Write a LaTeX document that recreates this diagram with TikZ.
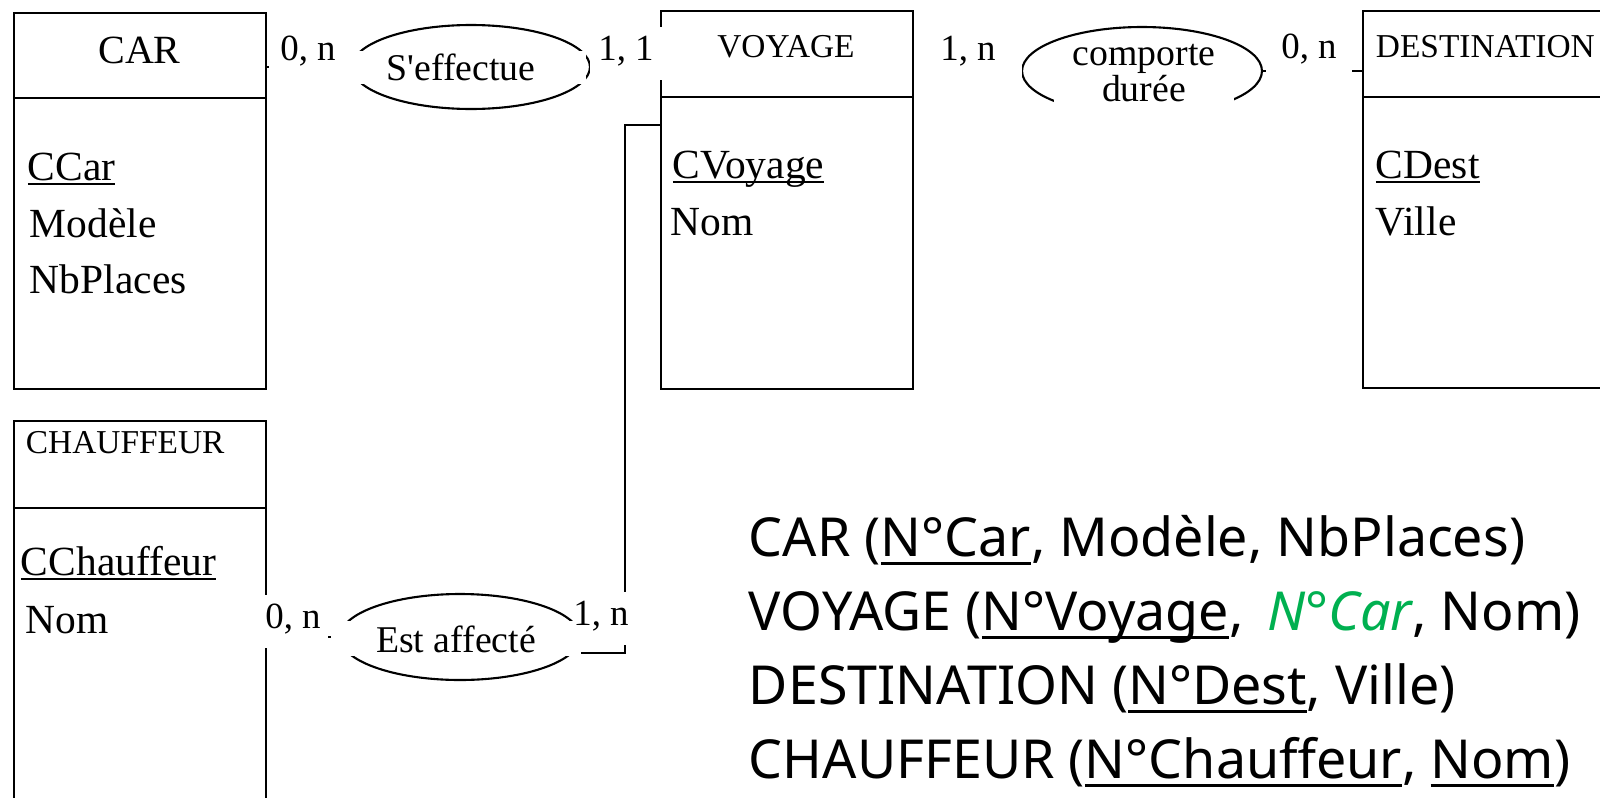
\documentclass[tikz,border=0pt]{standalone}
\usepackage{fontspec}
\setmainfont{Liberation Serif}
\newfontfamily\relfont{Noto Sans}
\usepackage{xcolor}
\usetikzlibrary{shapes.geometric, positioning}
\definecolor{fkgreen}{RGB}{0,176,80}
\newsavebox{\ulbox}
\newcommand{\cle}[1]{\sbox{\ulbox}{#1}\rlap{\rule[-3pt]{\wd\ulbox}{1.2pt}}\usebox{\ulbox}}
\newcommand{\rid}[1]{\sbox{\ulbox}{#1}\rlap{\rule[-5pt]{\wd\ulbox}{1.5pt}}\usebox{\ulbox}}

\begin{document}
\begin{tikzpicture}[
        x=0.02cm, y=-0.02cm,
        line width=1.1pt,
        entity/.style={draw, line width=1.3pt, anchor=north west, inner sep=0pt},
        hdrbig/.style={font=\fontsize{22.8}{26}\selectfont, inner sep=0pt, anchor=base},
        hdrsmall/.style={font=\fontsize{19}{22}\selectfont, inner sep=0pt, anchor=base west},
        attr/.style={font=\fontsize{23.6}{28}\selectfont, inner sep=0pt, anchor=base west},
        assoc/.style={draw, ellipse, line width=1.2pt, inner sep=0pt},
        assoctext/.style={fill=white, inner xsep=0pt, inner ysep=2pt, anchor=base,
            font=\fontsize{21.5}{24}\selectfont},
        card/.style={fill=white, inner xsep=0pt, inner ysep=0pt, anchor=base,
            text height=0.66cm, text depth=0.4cm, font=\fontsize{21}{24}\selectfont},
        rel/.style={font=\relfont\fontsize{30.6}{36}\selectfont, inner sep=0pt, anchor=base west}
    ]
        \useasboundingbox (0,0) rectangle (1600,798);
        \clip (0,0) rectangle (1600,798);

        % Entities
        \node[entity, minimum width=5.04cm, minimum height=7.52cm] (car) at (13,12) {};
        \draw (car.west |- 0,98) -- (car.east |- 0,98);
        \node[hdrbig] (carH) at (139.5,63) {CAR};
        \node[attr] (carA1) at (27,180) {\cle{CCar}};
        \node[attr] (carA2) at (29,237) {Modèle};
        \node[attr] (carA3) at (29,293) {NbPlaces};

        \node[entity, minimum width=5.04cm, minimum height=7.56cm] (voy) at (660,10) {};
        \draw (voy.west |- 0,97) -- (voy.east |- 0,97);
        \node[hdrsmall, anchor=base] (voyH) at (786,57) {VOYAGE};
        \node[attr] (voyA1) at (672,178) {\cle{CVoyage}};
        \node[attr] (voyA2) at (670,235) {Nom};

        \node[entity, minimum width=5.6cm, minimum height=7.54cm] (dest) at (1362,10) {};
        \draw (dest.west |- 0,97) -- (dest.east |- 0,97);
        \node[hdrsmall] (destH) at (1375,57) {DESTINATION};
        \node[attr] (destA1) at (1375,178) {\cle{CDest}};
        \node[attr] (destA2) at (1375,235) {Ville};

        \node[entity, minimum width=5.04cm, minimum height=8cm] (chauf) at (13,420) {};
        \draw (chauf.west |- 0,508) -- (chauf.east |- 0,508);
        \node[hdrsmall] (chaufH) at (25,453) {CHAUFFEUR};
        \node[attr] (chaufA1) at (20,575) {\cle{CChauffeur}};
        \node[attr] (chaufA2) at (25,633) {Nom};

        % Associations
        \node[assoc, minimum width=4.76cm, minimum height=1.68cm] (seff) at (471,67) {};
        \node[assoc, minimum width=4.8cm, minimum height=1.76cm] (comp) at (1142,71) {};
        \node[assoc, minimum width=4.8cm, minimum height=1.72cm] (aff) at (460,637) {};

        % Links
        \draw (car.east |- seff.west) -- (seff.west);
        \draw (seff.east) -- (voy.west |- seff.east);
        \draw (voy.east |- comp.west) -- (comp.west);
        \draw (comp.east) -- (dest.west |- comp.east);
        \draw (chauf.east |- aff.west) -- (aff.west);
        \coordinate (bend) at (625,125);
        \draw (aff.-8) -| (bend) -- (bend -| voy.west);

        % Association names
        \node[assoctext, minimum width=5cm, text height=0.5cm] (seffT) at (461,80) {S\textquotesingle effectue};
        \node[assoctext, minimum width=5cm, text height=0.54cm] (affT) at (456,652) {Est affecté};
        \node[fill=white, inner sep=0pt, anchor=north, text width=3.6cm, align=center,
            font=\fontsize{21.5}{19.5}\selectfont] (compT) at (1144,43)
            {\rule{0pt}{12pt}comporte\\durée\rule[-11pt]{0pt}{0pt}};

        % Cardinalities
        \node[card, minimum width=1.56cm] (k1) at (308,60) {0, n};
        \node[card, minimum width=1.44cm] (k2) at (626,60) {1, 1};
        \node[card, minimum width=2.16cm] (k3) at (968,60) {1, n};
        \node[card, minimum width=1.72cm] (k4) at (1309,58) {0, n};
        \node[card, minimum width=1.4cm] (k5) at (293,628) {0, n};
        \node[card, minimum width=1.12cm] (k6) at (601,625) {1, n};

        % Relational schema
        \node[rel] (r1) at (748,556) {CAR (\rid{N°Car}, Modèle, NbPlaces)};
        \node[rel] (r2) at (748,630) {VOYAGE (\rid{N°Voyage},\hspace{0.45em}\textcolor{fkgreen}{\itshape N°Car}, Nom)};
        \node[rel] (r3) at (748,704) {DESTINATION (\rid{N°Dest}, Ville)};
        \node[rel] (r4) at (748,778) {CHAUFFEUR (\rid{N°Chauffeur}, \rid{Nom})};
    \end{tikzpicture}
\end{document}
